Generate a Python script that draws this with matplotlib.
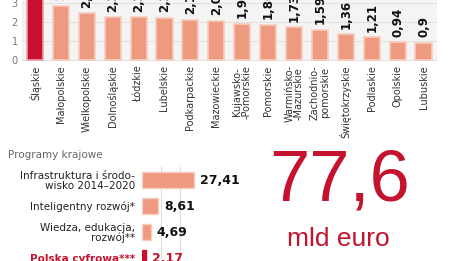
import matplotlib
matplotlib.use("Agg")
import matplotlib.pyplot as plt

# ---- data ----
regions = ["Śląskie", "Małopolskie", "Wielkopolskie", "Dolnośląskie", "Łódzkie",
           "Lubelskie", "Podkarpackie", "Mazowieckie", "Kujawsko-\n-Pomorskie",
           "Pomorskie", "Warmińsko-\n-Mazurskie", "Zachodnio-\npomorskie",
           "Świętokrzyskie", "Podlaskie", "Opolskie", "Lubuskie"]
region_values = [5.46, 2.87, 2.45, 2.25, 2.25, 2.23, 2.13, 2.07, 1.91, 1.86,
                 1.73, 1.59, 1.36, 1.21, 0.94, 0.9]
y_ticks = [0, 1, 2, 3]

programs = ["Infrastruktura i środo-\nwisko 2014–2020", "Inteligentny rozwój*",
            "Wiedza, edukacja,\nrozwój**", "Polska cyfrowa***"]
program_values = [27.41, 8.61, 4.69, 2.17]

total_value = "77,6"
total_unit = "mld euro"

# ---- styling ----
SALMON = "#ee9a80"
DARK_RED = "#c8102e"
RED_TEXT = "#c4122f"

W, H = 465, 261
fig = plt.figure(figsize=(W / 100, H / 100), dpi=100)
fig.patch.set_facecolor("white")


def px_axes(left, top, right, bottom):
    return fig.add_axes([left / W, (H - bottom) / H, (right - left) / W, (bottom - top) / H])


# ---- top chart ----
ax = px_axes(22, 0, 437, 61)
ax.set_facecolor("#f4f4f4")
xs = list(range(len(regions)))
colors = [DARK_RED] + [SALMON] * (len(regions) - 1)
edges = ["#e8a0a8"] + ["#f8cdbd"] * (len(regions) - 1)
ax.bar(xs, region_values, width=0.62, color=colors, edgecolor=edges, linewidth=1.2, zorder=3)
ax.set_xlim(-0.5, 15.52)
ax.set_ylim(-0.05, 3.16)
ax.set_yticks(y_ticks)
ax.set_yticklabels([str(t) for t in y_ticks], fontsize=7, color="#777777")
ax.yaxis.grid(True, color="#e2e2e2", linewidth=0.8, zorder=0)
ax.set_xticks(xs)
ax.set_xticklabels(regions, rotation=90, fontsize=7, color="#333333",
                   ha="center", va="top", multialignment="center", linespacing=0.95)
ax.tick_params(length=0, pad=3)
for s in ax.spines.values():
    s.set_visible(False)
for x, v in zip(xs, region_values):
    ax.annotate(f"{v:g}".replace(".", ","), (x, v), xytext=(0, 4), textcoords="offset points",
                rotation=90, ha="center", va="bottom", fontsize=8.5, fontweight="bold",
                color="#111111", annotation_clip=False)

# ---- bottom chart ----
fig.text(8 / W, 1 - 155 / H, "Programy krajowe", fontsize=7.5, color="#666666",
         ha="left", va="center")

bx = px_axes(142, 167, 199, 271)
ys = list(range(len(programs)))
pcolors = [SALMON, SALMON, SALMON, DARK_RED]
bx.barh(ys, program_values, height=0.65, color=pcolors, edgecolor=["#f8cdbd"] * 3 + [DARK_RED],
        linewidth=1.0, zorder=3)
bx.set_xlim(0, 30)
bx.set_ylim(3.5, -0.5)
bx.set_xticks([10, 20])
bx.xaxis.grid(True, color="#dddddd", linewidth=0.8, zorder=0)
bx.set_xticklabels([])
bx.set_yticks(ys)
bx.set_yticklabels(programs, fontsize=7.5, color="#222222", ha="right",
                   multialignment="right", linespacing=0.95)
bx.tick_params(length=0, pad=5)
lab = bx.get_yticklabels()[-1]
lab.set_color(RED_TEXT)
lab.set_fontweight("bold")
for s in bx.spines.values():
    s.set_visible(False)
for y, v, c in zip(ys, program_values, ["#111111"] * 3 + [RED_TEXT]):
    bx.annotate(f"{v:g}".replace(".", ","), (v, y), xytext=(4, 0), textcoords="offset points",
                ha="left", va="center", fontsize=9, fontweight="bold", color=c,
                annotation_clip=False)

# ---- headline number ----
fig.text(340 / W, 1 - 182 / H, total_value, fontsize=52, color=RED_TEXT,
         family="Liberation Sans", ha="center", va="center")
fig.text(338 / W, 1 - 239 / H, total_unit, fontsize=19, color=RED_TEXT,
         family="Liberation Sans", ha="center", va="center")

fig.savefig("out.png", dpi=100)
